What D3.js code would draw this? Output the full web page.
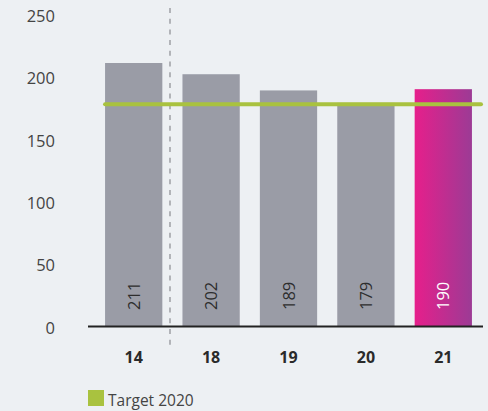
<!DOCTYPE html>
<html>
<head>
<meta charset="utf-8">
<script src="https://cdn.jsdelivr.net/npm/d3@7"></script>
<style>
  html, body { margin: 0; padding: 0; background: #edf0f3; }
  svg { display: block; font-family: "Open Sans", Lato, sans-serif; }
</style>
</head>
<body>
<div class="container"></div>
<script>
// Size of frame
const width = 488;
const height = 411;

// Data
const years = ['14', '18', '19', '20', '21'];
const values = [211, 202, 189, 179, 190];
const yTicks = [0, 50, 100, 150, 200, 250];
const target = 178;
const legendLabel = 'Target 2020';

// Colours
const bg = '#edf0f3';
const barGrey = '#9a9ca6';
const green = '#a9c23f';
const pink1 = '#e61f8b';
const pink2 = '#9c3b95';

const svg = d3.select('.container')
  .append('svg')
  .attr('width', width)
  .attr('height', height);

svg.append('rect')
  .attr('width', width)
  .attr('height', height)
  .attr('fill', bg);

const defs = svg.append('defs');
const grad = defs.append('linearGradient')
  .attr('id', 'pinkGrad')
  .attr('x1', '0%').attr('x2', '100%')
  .attr('y1', '0%').attr('y2', '0%');
grad.append('stop').attr('offset', '0%').attr('stop-color', pink1);
grad.append('stop').attr('offset', '100%').attr('stop-color', pink2);

const x = d3.scaleBand()
  .domain(years)
  .range([95, 482])
  .paddingInner(0.26)
  .paddingOuter(0.13);

const y = d3.scaleLinear()
  .domain([0, 250])
  .range([326, 14.4]);

// y tick labels
svg.selectAll('.ytick')
  .data(yTicks)
  .enter()
  .append('text')
  .attr('class', 'ytick')
  .attr('x', 55)
  .attr('y', d => y(d) + 2)
  .attr('dy', '0.35em')
  .attr('text-anchor', 'end')
  .attr('font-size', 16.5)
  .attr('fill', '#444')
  .text(d => d);

// bars
svg.selectAll('.bar')
  .data(values)
  .enter()
  .append('rect')
  .attr('class', 'bar')
  .attr('x', (d, i) => x(years[i]))
  .attr('y', d => y(d))
  .attr('width', x.bandwidth())
  .attr('height', d => y(0) - y(d))
  .attr('fill', (d, i) => i === values.length - 1 ? 'url(#pinkGrad)' : barGrey);

// value labels inside bars
svg.selectAll('.val')
  .data(values)
  .enter()
  .append('text')
  .attr('class', 'val')
  .attr('transform', (d, i) => `translate(${x(years[i]) + x.bandwidth() / 2 + 6},${y(0) - 16}) rotate(-90)`)
  .attr('font-size', 16.5)
  .attr('fill', (d, i) => i === values.length - 1 ? '#fff' : '#2e2e2e')
  .text(d => d);

// dashed divider
svg.append('line')
  .attr('x1', 170).attr('x2', 170)
  .attr('y1', 8).attr('y2', 345)
  .attr('stroke', '#8a8c92')
  .attr('stroke-width', 1.2)
  .attr('stroke-dasharray', '5,5.7');

// target line
svg.append('line')
  .attr('x1', x(years[0]))
  .attr('x2', 481)
  .attr('y1', y(target))
  .attr('y2', y(target))
  .attr('stroke', green)
  .attr('stroke-width', 4)
  .attr('stroke-linecap', 'round');

// baseline
svg.append('line')
  .attr('x1', 88).attr('x2', 483)
  .attr('y1', y(0) + 0.5).attr('y2', y(0) + 0.5)
  .attr('stroke', '#222')
  .attr('stroke-width', 2.2);

// x labels
svg.selectAll('.xlab')
  .data(years)
  .enter()
  .append('text')
  .attr('class', 'xlab')
  .attr('x', d => x(d) + x.bandwidth() / 2)
  .attr('y', 357)
  .attr('dy', '0.35em')
  .attr('text-anchor', 'middle')
  .attr('font-size', 16)
  .attr('font-weight', 'bold')
  .attr('fill', '#2a2a2a')
  .text(d => d);

// legend
svg.append('rect')
  .attr('x', 88).attr('y', 390)
  .attr('width', 16).attr('height', 16)
  .attr('fill', green);

svg.append('text')
  .attr('x', 108)
  .attr('y', 406)
  .attr('font-size', 15.5)
  .attr('fill', '#444')
  .text(legendLabel);
</script>
</body>
</html>
